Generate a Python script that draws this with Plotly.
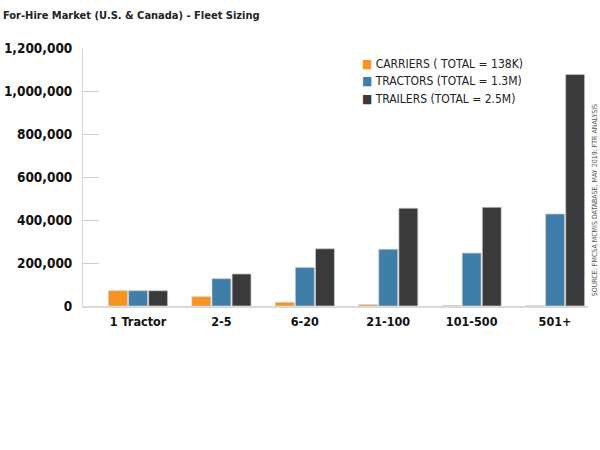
import plotly.graph_objects as go

categories = ["1 Tractor", "2-5", "6-20", "21-100", "101-500", "501+"]
carriers = [71000, 43000, 17000, 6000, 1000, 400]
tractors = [71000, 127000, 179000, 264000, 246000, 428000]
trailers = [71000, 149000, 266000, 455000, 459000, 1077000]
series_names = ["CARRIERS ( TOTAL = 138K)", "TRACTORS (TOTAL = 1.3M)", "TRAILERS (TOTAL = 2.5M)"]
colors = ["#F7941D", "#3F7EA9", "#3A3A3A"]
y_ticks = [0, 200000, 400000, 600000, 800000, 1000000, 1200000]

cond = "DejaVu Sans Condensed, Liberation Sans Narrow, sans-serif"

fig = go.Figure()
for name, vals, col in zip(series_names, [carriers, tractors, trailers], colors):
    fig.add_trace(go.Bar(
        x=list(range(len(categories))), y=vals, name=name,
        marker=dict(color=col, line=dict(color="rgba(200,200,200,0.9)", width=0.8)),
    ))

# legend drawn as annotations (swatch + label), stacked from the top
legend_annots = []
for i, (name, col) in enumerate(zip(series_names, colors)):
    legend_annots.append(dict(
        text=f"<span style='color:{col}'>■</span> {name}",
        xref="paper", yref="paper", x=0.548, y=0.938, xanchor="left", yanchor="middle",
        yshift=-17.5 * i, showarrow=False, align="left",
        font=dict(family=cond, size=12, color="#222")))

fig.update_layout(
    width=600, height=450,
    margin=dict(l=83, r=12, t=48, b=143.5),
    paper_bgcolor="white", plot_bgcolor="white",
    barmode="group", bargap=0.277, bargroupgap=0.06,
    showlegend=False,
    xaxis=dict(range=[-0.66, 5.395], tickmode="array", automargin=False,
               tickvals=list(range(len(categories))), ticktext=categories,
               showgrid=False, zeroline=False, showline=True,
               linecolor="#d9d9d9", linewidth=1.5, ticks="",
               ticklabelstandoff=3,
               tickfont=dict(family=cond, size=12.5, color="#111", weight="bold")),
    yaxis=dict(range=[0, 1200000], tickmode="array", tickvals=y_ticks, automargin=False,
               ticktext=[f"{v:,}" for v in y_ticks],
               showgrid=False, zeroline=False, showline=True,
               linecolor="#d9d9d9", linewidth=1, ticks="inside",
               ticklen=16, tickcolor="#cfcfcf", tickwidth=1,
               ticklabelstandoff=7,
               tickfont=dict(family=cond, size=13.5, color="#111", weight="bold")),
    annotations=[
        dict(text="<b>For-Hire Market (U.S. &amp; Canada) - Fleet Sizing</b>",
             xref="paper", yref="paper", x=-0.162, y=1.0, xanchor="left", yanchor="middle",
             yshift=33, showarrow=False,
             font=dict(family=cond, size=11, color="#222")),
        dict(text="SOURCE: FMCSA MCMIS DATABASE, MAY 2019; FTR ANALYSIS",
             xref="paper", yref="paper", x=1.0, y=0.41, xanchor="center", yanchor="middle",
             xshift=7, textangle=-90, showarrow=False,
             font=dict(family=cond, size=7, color="#555")),
    ] + legend_annots,
)

fig.write_html("out.html", config={"displayModeBar": False},
               post_script="document.body.style.margin='0';")
